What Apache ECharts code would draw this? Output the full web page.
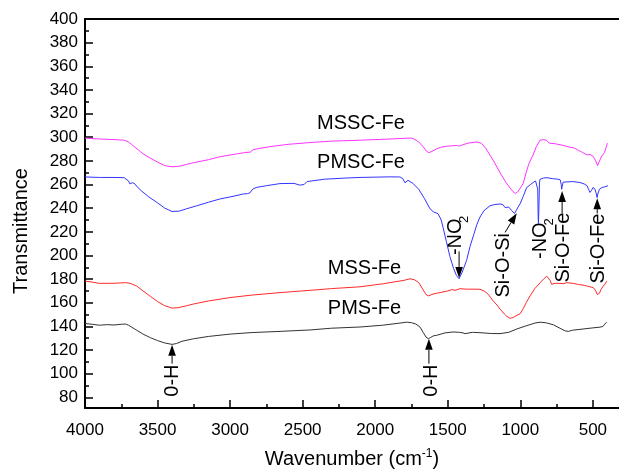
<!DOCTYPE html>
<html>
<head>
<meta charset="utf-8">
<script src="https://cdn.jsdelivr.net/npm/echarts@6/dist/echarts.min.js"></script>
<style>
html, body { margin: 0; padding: 0; background: #fff; }
#chart { width: 619px; height: 474px; }
</style>
</head>
<body>
<div id="chart"></div>
<script>
// FTIR spectra: [wavenumber (cm-1), transmittance]
const pmsFe = [
  [4000,142.5],[3950,141.8],[3900,141],[3850,141.5],[3800,141.2],[3750,141.8],[3720,142],[3700,141],
  [3680,139.5],[3640,136.5],[3600,133.5],[3550,130.5],[3500,128],[3450,126],[3400,124.8],[3370,125.5],
  [3330,127.5],[3254,129.5],[3150,131.5],[3000,133.5],[2850,134.8],[2656,135.8],[2450,137],[2300,138.5],
  [2105,139.5],[1950,141],[1850,142.5],[1783,143.6],[1749,143.1],[1720,142],[1691,139.4],[1670,135],
  [1650,131],[1634,129.7],[1620,130.5],[1600,132],[1576,132.5],[1520,134.5],[1464,135.3],[1420,135],
  [1395,134.5],[1381,133.9],[1370,135],[1330,135],[1278,134.7],[1200,134],[1140,133.9],[1080,135],
  [1025,137.8],[960,140.5],[900,142.8],[864,143.6],[820,143],[773,141.4],[720,138],[690,136.2],
  [669,135.8],[640,136.8],[589,137.5],[520,138.5],[451,139.4],[430,140],[418,142],[405,143.6]
];
const mssFe = [
  [4000,178.3],[3950,177.5],[3900,176.4],[3800,176.5],[3720,177],[3690,176.5],[3660,175],[3644,174.2],
  [3600,170],[3550,165.5],[3500,161],[3450,157.5],[3400,155.5],[3360,155.8],[3300,157.5],[3254,158.9],
  [3150,161.5],[3001,164.4],[2850,166.5],[2656,168.6],[2450,170.5],[2300,172],[2105,173.5],[1950,176],
  [1800,179],[1760,180.3],[1730,179.5],[1700,177],[1691,175.6],[1670,171],[1650,167],[1634,165.8],
  [1610,167],[1580,168],[1553,168.6],[1500,170],[1470,171.2],[1450,170.5],[1416,171.9],[1370,171.5],
  [1320,171.5],[1278,171.4],[1250,170],[1221,167.2],[1190,162],[1160,158],[1140,154.7],[1110,150.5],
  [1094,148.6],[1071,146.9],[1050,147.5],[1030,149],[1002,150.6],[980,155],[960,160],[933,165.8],
  [900,172],[864,176.9],[840,180],[818,182.5],[805,182],[795,179],[784,175.6],[760,176.5],
  [700,176.2],[680,177],[635,176.4],[600,175.5],[560,174.8],[543,174.2],[520,173.5],[497,172.8],
  [480,170],[470,167],[462,165.8],[455,168],[445,171],[428,174.2],[415,176],[405,178.3]
];
const pmscFe = [
  [4000,266.4],[3900,266],[3800,266],[3730,265.8],[3700,263],[3690,260.5],[3675,261.5],[3660,261],
  [3640,258],[3610,254.5],[3560,249.5],[3500,244.5],[3450,240],[3400,237.2],[3350,237.5],[3300,239.5],
  [3230,242],[3150,245],[3070,247.8],[2980,250],[2910,252],[2880,252.3],[2863,253],[2845,256],
  [2820,257.5],[2750,259],[2656,260.8],[2560,261],[2520,259.5],[2507,258],[2490,260],[2470,262.5],
  [2350,264.5],[2200,265.5],[2105,266],[1900,266.5],[1830,266.4],[1810,265],[1795,261.5],[1785,262],
  [1774,263.6],[1740,261],[1700,256],[1690,254.7],[1660,248],[1622,239.4],[1600,237],[1567,235.3],
  [1545,230],[1533,224],[1510,212],[1485,199],[1460,189],[1440,183],[1422,180.3],[1400,186],
  [1370,196],[1347,207.5],[1320,218],[1300,226],[1278,232.5],[1250,238],[1209,242],[1180,243],
  [1140,243.6],[1120,243],[1105,240.5],[1095,242],[1080,241],[1060,238],[1040,235.5],[1030,237],
  [1015,241],[1002,243.6],[980,250],[956,257.5],[930,260],[912,261.7],[895,263],[885,264],
  [880,256],[877,232],[875,227],[872,240],[868,262],[864,264.4],[840,265.5],[816,265.8],
  [780,265],[740,264.5],[725,264],[718,260],[715,256],[712,258],[705,262],[692,263],
  [640,262.5],[589,261.7],[560,260.5],[540,259],[530,256],[520,253.3],[510,255],[499,257.5],
  [485,256],[476,252],[471,249],[466,252],[455,256],[437,257.5],[420,258],[410,257],[396,259]
];
const msscFe = [
  [4000,299.2],[3900,298.5],[3800,298],[3730,297.5],[3700,296],[3680,294],[3650,291],[3620,288],
  [3600,286],[3560,283],[3500,279],[3450,276],[3400,275],[3350,275.5],[3300,277],[3250,278.5],
  [3150,281],[3070,283.5],[2950,286],[2900,287],[2860,287.5],[2840,289.5],[2800,290.5],[2700,292.5],
  [2600,294],[2450,295.5],[2300,296.7],[2100,297.5],[1900,298.5],[1760,299.3],[1740,299],[1700,296],
  [1670,292],[1645,288],[1630,287],[1610,288],[1580,290],[1550,291.5],[1500,292.5],[1440,293],
  [1420,292.5],[1400,293.5],[1360,295],[1300,296],[1270,295],[1240,291],[1210,285],[1180,279],
  [1140,270],[1100,262],[1070,257],[1050,254],[1035,252.5],[1020,253.5],[1000,257],[980,261],
  [960,270],[940,278],[912,285],[890,292],[864,297.5],[840,298],[820,297.5],[800,295],
  [790,294],[760,294.5],[700,293],[660,291.5],[630,291],[600,289],[570,287],[540,285],
  [520,285.5],[500,284],[480,280],[468,276],[460,277],[450,281],[440,284],[430,284.5],
  [420,287],[410,291],[400,295]
];

// Axis ticks and labels
const xMajorTicks = [4000, 3500, 3000, 2500, 2000, 1500, 1000, 500];
const xMinorTicks = [3750, 3250, 2750, 2250, 1750, 1250, 750];
const yMajorTicks = [80, 100, 120, 140, 160, 180, 200, 220, 240, 260, 280, 300, 320, 340, 360, 380, 400];
const yMinorTicks = [90, 110, 130, 150, 170, 190, 210, 230, 250, 270, 290, 310, 330, 350, 370, 390];

// Curve names, placed beside each trace: [name, wavenumber, transmittance]
const seriesTags = [
  ['MSSC-Fe', 2098, 311.3],
  ['PMSC-Fe', 2098, 278.8],
  ['MSS-Fe', 2074, 188.8],
  ['PMS-Fe', 2074, 155.4]
];

// Band assignments: label centre, and arrow from -> to (data coordinates)
const bands = [
  { text: '0-H', at: [3395, 94.2], from: [3400, 108.5], to: [3400, 124.5] },
  { text: '0-H', at: [1615, 94.2], from: [1630, 108.5], to: [1630, 129.5] },
  { text: '-NO', sub: '2', at: [1445, 215.8], subAt: [1382, 230.5], from: [1422, 203.5], to: [1422, 181] },
  { text: 'Si-O-Si', at: [1119, 191.7], from: [1105, 219.5], to: [1025, 235.8] },
  { text: '-NO', sub: '2', at: [864, 212.5], subAt: [802, 228.5] },
  { text: 'Si-O-Fe', at: [706, 206.7], from: [712, 235.5], to: [712, 254.5] },
  { text: 'Si-O-Fe', at: [464, 205.8], from: [470, 235.5], to: [470, 248.5] }
];

const FONT = 'Liberation Sans, Arial, sans-serif';
const chart = echarts.init(document.getElementById('chart'), null, { renderer: 'canvas' });

const baseX = { type: 'value', min: 320, max: 4000, inverse: true, splitLine: { show: false } };
const baseY = { type: 'value', min: 71, max: 400, splitLine: { show: false } };
const plain = v => String(v);

chart.setOption({
  animation: false,
  backgroundColor: '#fff',
  grid: { left: 85, right: 0, top: 19, bottom: 60, containLabel: false },
  xAxis: [
    Object.assign({}, baseX, {
      position: 'bottom',
      name: 'Wavenumber (cm{sup|-1})',
      nameLocation: 'middle',
      nameGap: 40,
      nameTextStyle: {
        fontFamily: FONT, fontSize: 20, color: '#000',
        rich: { sup: { fontFamily: FONT, fontSize: 12, color: '#000', verticalAlign: 'top', padding: [0, 0, 10, 0] } }
      },
      axisLine: { show: true, lineStyle: { color: '#000', width: 2 } },
      axisTick: { show: true, inside: true, length: 8, customValues: xMajorTicks, lineStyle: { color: '#000', width: 1.5 } },
      axisLabel: { show: true, margin: 14, customValues: xMajorTicks, formatter: plain, fontFamily: FONT, fontSize: 17, color: '#000' }
    }),
    Object.assign({}, baseX, {
      position: 'bottom',
      axisLine: { show: false },
      axisTick: { show: true, inside: true, length: 4, customValues: xMinorTicks, lineStyle: { color: '#000', width: 1.5 } },
      axisLabel: { show: false }
    }),
    Object.assign({}, baseX, {
      position: 'top',
      axisLine: { show: true, lineStyle: { color: '#000', width: 2 } },
      axisTick: { show: false },
      axisLabel: { show: false }
    })
  ],
  yAxis: [
    Object.assign({}, baseY, {
      position: 'left',
      axisLine: { show: true, lineStyle: { color: '#000', width: 2 } },
      axisTick: { show: true, inside: true, length: 8, customValues: yMajorTicks, lineStyle: { color: '#000', width: 1.5 } },
      axisLabel: { show: true, margin: 7, customValues: yMajorTicks, formatter: plain, fontFamily: FONT, fontSize: 17, color: '#000' }
    }),
    Object.assign({}, baseY, {
      position: 'left',
      axisLine: { show: false },
      axisTick: { show: true, inside: true, length: 4, customValues: yMinorTicks, lineStyle: { color: '#000', width: 1.5 } },
      axisLabel: { show: false }
    })
  ],
  series: [
    { name: 'PMS-Fe', data: pmsFe, color: '#333333' },
    { name: 'MSS-Fe', data: mssFe, color: '#ff2a2a' },
    { name: 'PMSC-Fe', data: pmscFe, color: '#3434ff' },
    { name: 'MSSC-Fe', data: msscFe, color: '#ff33ff' }
  ].map(s => ({
    type: 'line', name: s.name, data: s.data, xAxisIndex: 0, yAxisIndex: 0,
    showSymbol: false, symbol: 'none', smooth: false,
    lineStyle: { color: s.color, width: 1 }, itemStyle: { color: s.color }
  }))
});

// Annotation layer, positioned through the axes
const toPx = p => chart.convertToPixel({ xAxisIndex: 0, yAxisIndex: 0 }, p);
const graphics = [];

// Vertical axis title
graphics.push({
  type: 'text', x: 21, y: 231, rotation: Math.PI / 2, silent: true,
  style: { text: 'Transmittance', fontFamily: FONT, fontSize: 20, fill: '#000', align: 'center', verticalAlign: 'middle' }
});

seriesTags.forEach(([name, wn, v]) => {
  const [x, y] = toPx([wn, v]);
  graphics.push({
    type: 'text', x, y, silent: true,
    style: { text: name, fontFamily: FONT, fontSize: 20, fill: '#000', align: 'center', verticalAlign: 'middle' }
  });
});

function arrowShapes(p0, p1) {
  const dx = p1[0] - p0[0], dy = p1[1] - p0[1];
  const len = Math.hypot(dx, dy), ux = dx / len, uy = dy / len;
  const headL = 11, headW = 3.8;
  const bx = p1[0] - ux * headL, by = p1[1] - uy * headL;
  return [
    { type: 'line', silent: true, shape: { x1: p0[0], y1: p0[1], x2: bx, y2: by }, style: { stroke: '#000', lineWidth: 1 } },
    { type: 'polygon', silent: true, shape: { points: [p1, [bx - uy * headW, by + ux * headW], [bx + uy * headW, by - ux * headW]] }, style: { fill: '#000' } }
  ];
}

bands.forEach(b => {
  const [x, y] = toPx(b.at);
  graphics.push({
    type: 'text', x, y, rotation: Math.PI / 2, silent: true,
    style: { text: b.text, fontFamily: FONT, fontSize: 20, fill: '#000', align: 'center', verticalAlign: 'middle' }
  });
  if (b.sub) {
    const [sx, sy] = toPx(b.subAt);
    graphics.push({
      type: 'text', x: sx, y: sy, rotation: Math.PI / 2, silent: true,
      style: { text: b.sub, fontFamily: FONT, fontSize: 13, fill: '#000', align: 'center', verticalAlign: 'middle' }
    });
  }
  if (b.from) {
    arrowShapes(toPx(b.from), toPx(b.to)).forEach(g => graphics.push(g));
  }
});

chart.setOption({ graphic: graphics });
</script>
</body>
</html>
